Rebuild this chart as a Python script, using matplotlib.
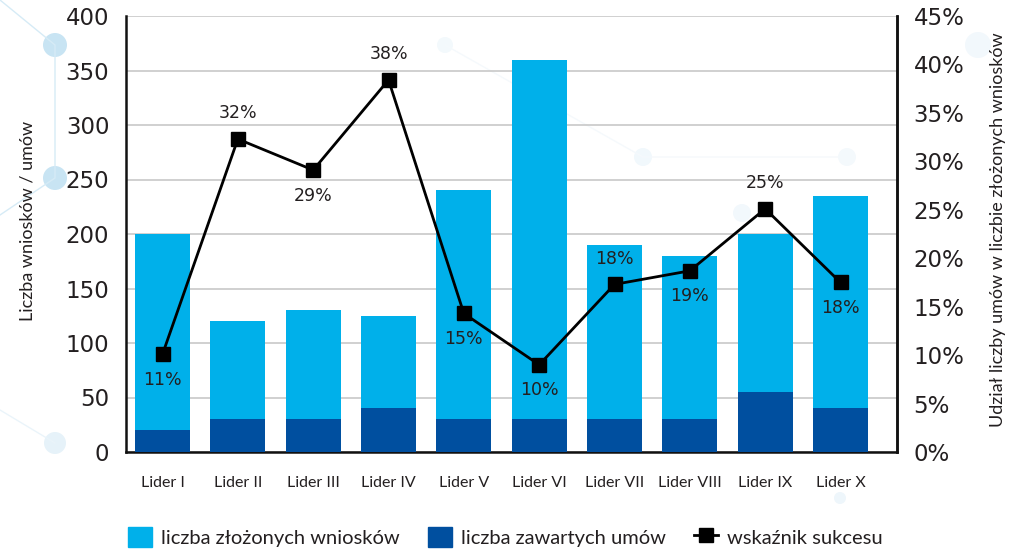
import matplotlib
matplotlib.use("Agg")
import matplotlib.pyplot as plt
from matplotlib.patches import Circle
from matplotlib.lines import Line2D
import numpy as np

plt.rcParams['font.family'] = ['Lato', 'DejaVu Sans']

categories = ["Lider I", "Lider II", "Lider III", "Lider IV", "Lider V",
              "Lider VI", "Lider VII", "Lider VIII", "Lider IX", "Lider X"]
wnioski = [200, 120, 130, 125, 240, 360, 190, 180, 200, 235]
umowy = [20, 30, 30, 40, 30, 30, 30, 30, 55, 40]
sukces = [10.1, 32.3, 29.1, 38.4, 14.3, 9.0, 17.3, 18.7, 25.1, 17.5]
sukces_labels = ["11%", "32%", "29%", "38%", "15%", "10%", "18%", "19%", "25%", "18%"]
label_above = [False, True, False, True, False, False, True, False, True, False]

LIGHT = "#00B0EA"
DARK = "#004F9F"
TXT = "#231F20"
NUMFONT = ['DejaVu Sans']

fig = plt.figure(figsize=(10.11, 5.49), dpi=100)

# faint decorative background network
deco = fig.add_axes([0, 0, 1, 1], zorder=-5)
deco.set_xlim(0, 1011); deco.set_ylim(549, 0); deco.axis('off')
nodes = [(55, 45, 12, "#C8E4F3"), (55, 178, 12, "#C8E4F3"), (55, 443, 11, "#E6F2F9"),
         (978, 45, 13, "#F2F8FC"), (445, 45, 8, "#F3F9FC"), (643, 157, 9, "#F1F8FC"),
         (847, 157, 9, "#F4F9FC"), (742, 213, 9, "#F2F8FC"), (840, 498, 6, "#EEF6FB")]
deco.plot([0, 55, 55, 0], [0, 45, 178, 215], color="#D6EBF6", lw=1)
deco.plot([0, 55], [410, 443], color="#EAF4FA", lw=1)
deco.plot([445, 643, 847], [45, 157, 157], color="#F5F9FC", lw=1)
for x, y, r, c in nodes:
    deco.add_patch(Circle((x, y), r, color=c, lw=0))

ax = fig.add_axes([126 / 1011, 1 - 452 / 549, 771 / 1011, 436 / 549])
x = np.arange(len(categories))
w = 0.73
ax.bar(x, wnioski, width=w, color=LIGHT, zorder=2)
ax.bar(x, umowy, width=w, color=DARK, zorder=3)
ax.set_ylim(0, 400)
ax.set_xlim(-0.485, 9.75)
ax.set_yticks(np.arange(0, 401, 50))
ax.yaxis.grid(True, color="#C8C8C8", lw=1.2, zorder=0)
ax.set_axisbelow(True)
ax.tick_params(axis='y', length=0, labelsize=16.5, labelcolor=TXT, pad=12)
for t in ax.get_yticklabels():
    t.set_family(NUMFONT)
ax.tick_params(axis='x', length=0, labelsize=11.5, labelcolor=TXT, pad=17)
ax.set_xticks(x)
ax.set_xticklabels(categories)
ax.set_ylabel("Liczba wniosków / umów", fontsize=13, color=TXT)
ax.yaxis.set_label_coords(-0.117, 0.53)
ax.spines['top'].set_visible(False)
for s in ['left', 'bottom', 'right']:
    ax.spines[s].set_color("#111111")
    ax.spines[s].set_linewidth(1.8)
ax.patch.set_alpha(0)

ax2 = ax.twinx()
ax2.set_ylim(0, 45)
ax2.set_yticks(np.arange(0, 46, 5))
ax2.set_yticklabels([f"{v}%" for v in range(0, 46, 5)], family=NUMFONT)
ax2.tick_params(axis='y', length=0, labelsize=16.5, labelcolor=TXT, pad=12)
ax2.plot(x, sukces, color="black", lw=2, marker='s', markersize=9.5, zorder=5)
for xi, v, lab, up in zip(x, sukces, sukces_labels, label_above):
    off = 2.65 if up else -2.65
    ax2.text(xi, v + off, lab, ha='center', va='center', fontsize=12.5,
             color=TXT, family=NUMFONT)
ax2.set_ylabel("Udział liczby umów w liczbie złożonych wniosków", fontsize=13,
               color=TXT)
ax2.yaxis.set_label_coords(1.121, 0.51)
for s in ['top', 'left', 'bottom']:
    ax2.spines[s].set_visible(False)
ax2.spines['right'].set_color("#111111")
ax2.spines['right'].set_linewidth(1.8)

handles = [plt.Rectangle((0, 0), 1, 1, color=LIGHT),
           plt.Rectangle((0, 0), 1, 1, color=DARK),
           Line2D([0], [0], color='black', lw=2, marker='s', markersize=10)]
labels = ["liczba złożonych wniosków", "liczba zawartych umów", "wskaźnik sukcesu"]
fig.legend(handles, labels, loc='lower center', bbox_to_anchor=(0.5, -0.03), ncol=3,
           frameon=False, fontsize=14.5, handlelength=1.2, handleheight=1.2,
           columnspacing=1.4, handletextpad=0.45, labelcolor=TXT)

fig.savefig("out.png", dpi=100)
